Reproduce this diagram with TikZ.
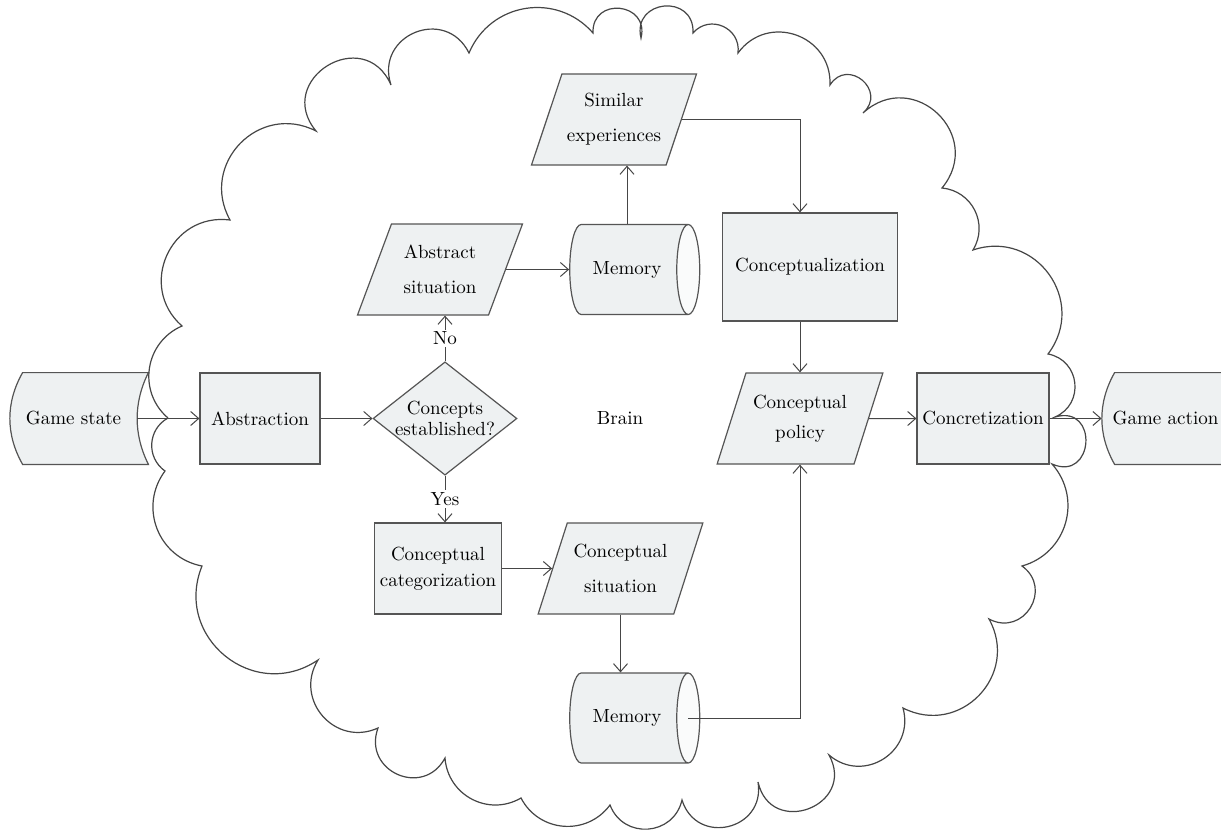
\documentclass[tikz,border=0pt]{standalone}
\usepackage{fontspec}
\usetikzlibrary{shapes.geometric,positioning,arrows.meta,backgrounds}
\definecolor{boxfill}{RGB}{238,241,242}
\definecolor{boxline}{RGB}{85,85,85}
\definecolor{arrline}{RGB}{70,70,70}
% stored-data outline drawn round an (invisible) node
\newcommand{\storeshape}[1]{%
  \filldraw[draw=boxline, fill=boxfill, line width=0.6pt]
    ([xshift=6.5pt]#1.north west) -- ([xshift=5.5pt]#1.north east)
    .. controls +(-7.5pt,-15pt) and +(-7.5pt,15pt) .. ([xshift=5.5pt]#1.south east)
    -- ([xshift=6.5pt]#1.south west)
    .. controls +(-8.5pt,15pt) and +(-8.5pt,-15pt) .. ([xshift=6.5pt]#1.north west) -- cycle;}
\begin{document}
\begin{tikzpicture}[x=0.5pt, y=0.5pt, on grid, font=\fontsize{9.5}{17.5}\selectfont,
  procbox/.style={draw=boxline, fill=boxfill, line width=0.6pt, minimum width=60pt, minimum height=45.5pt, align=center, inner sep=2pt},
  databox/.style={trapezium, trapezium left angle=63, trapezium right angle=117, trapezium stretches=true, draw=boxline, fill=boxfill, line width=0.6pt, minimum width=83pt, minimum height=45.5pt, align=center, inner sep=1pt},
  membox/.style={cylinder, shape aspect=1.1, cylinder uses custom fill, cylinder body fill=boxfill, cylinder end fill=boxfill!30!white, draw=boxline, line width=0.6pt, minimum width=45pt, minimum height=65pt, inner sep=1pt},
  decbox/.style={diamond, aspect=1.27, draw=boxline, fill=boxfill, line width=0.6pt, minimum width=70pt, minimum height=55pt, inner sep=0pt, align=center, font=\fontsize{9.5}{10.5}\selectfont},
  storebox/.style={minimum width=63.5pt, minimum height=45.5pt, inner sep=0pt},
  arr/.style={draw=arrline, line width=0.5pt, -{Straight Barb[length=4pt,width=7pt]}},
  lbl/.style={fill=white, inner sep=1pt},
  cloudline/.style={draw=arrline, line width=0.6pt},
  puffA/.style={bend left=58, looseness=1.12},
  puffB/.style={bend left=73, looseness=1.32},
  puffC/.style={bend left=86, looseness=1.6},
  puffD/.style={bend left=98, looseness=1.95},
  puffE/.style={bend left=110, looseness=2.5}]
\useasboundingbox (0,0) rectangle (1221,832);

% brain
\draw[cloudline] (168,414) to[puffA] (182,506) to[puffB] (230,612)
  to[puffB] (316,701) to[puffD] (391,747) to[puffC] (469,779)
  to[puffA] (593,799) to[puffD] (641,794) to[puffD] (693,799)
  to[puffB] (738,779) to[puffB] (830,747) to[puffD] (863,719)
  to[puffC] (942,644) to[puffA] (973,582) to[puffB] (1048,478)
  to[puffB] (1055,415) to[puffE] (1052,368) to[puffA] (1022,266)
  to[puffC] (989,213) to[puffB] (903,124) to[puffB] (829,77)
  to[puffD] (758,50) to[puffC] (682,32) to[puffB] (610,27)
  to[puffA] (521,34) to[puffA] (445,74) to[puffC] (378,104)
  to[puffB] (318,172) to[puffB] (202,266) to[puffA] (165,361)
  to[puffA] (168,414);

\node[procbox] (abs) at (260,413.5) {Abstraction};
\node[storebox] (gs) [left=93.25pt of abs] {Game state};
\node[decbox] (dec) [right=92.5pt of abs] {Concepts\\established?};
\node[databox] (absit) [above left=74.5pt and 2.5pt of dec] {Abstract\\situation};
\node[membox] (mem1) [right=93.5pt of absit] {Memory};
\node[databox] (se) [above left=75pt and 6.5pt of mem1] {Similar\\experiences};
\node[procbox, font=\fontsize{9.5}{13}\selectfont, minimum width=63.5pt] (ccat) [below left=75pt and 3.5pt of dec] {Conceptual\\categorization};
\node[databox] (cs) [right=91.25pt of ccat] {Conceptual\\situation};
\node[membox] (mem2) [below right=74.75pt and 3.25pt of cs] {Memory};
\node[databox, font=\fontsize{9.5}{15}\selectfont] (cp) [right=177.5pt of dec] {Conceptual\\policy};
\node[procbox, minimum width=87.5pt, minimum height=54pt] (cz) [above right=75.75pt and 5pt of cp] {Conceptualization};
\node[procbox, minimum width=66pt] (cc) [right=91.5pt of cp] {Concretization};
\node[storebox] (ga) [right=91.25pt of cc] {Game action};
\node (brain) [right=87.5pt of dec] {Brain};

\begin{scope}[on background layer]
\fill[white] (0,0) rectangle (1221,832);
\storeshape{gs}
\storeshape{ga}
\end{scope}

\draw[arr] (gs.east) -- (abs.west);
\draw[arr] (abs) -- (dec);
\draw[arr] (dec.north) -- node[lbl] {No} (dec.north |- absit.south);
\draw[arr] (dec.south) -- node[lbl] {Yes} (dec.south |- ccat.north);
\draw[arr] (absit.east) -- (absit.east -| mem1.west);
\draw[arr] (mem1.north) -- (mem1.north |- se.south);
\draw[arr] (se.east) -| (cp.north |- cz.north);
\draw[arr] (cp.north |- cz.south) -- (cp.north);
\draw[arr] (ccat.east) -- (ccat.east -| cs.west);
\draw[arr] (cs.south) -- (cs.south |- mem2.north);
\draw[arr] ([xshift=-6pt]mem2.east) -| (cp.south);
\draw[arr] (cp.east) -- (cc.west);
\draw[arr] (cc.east) -- (ga.west);
\end{tikzpicture}
\end{document}
